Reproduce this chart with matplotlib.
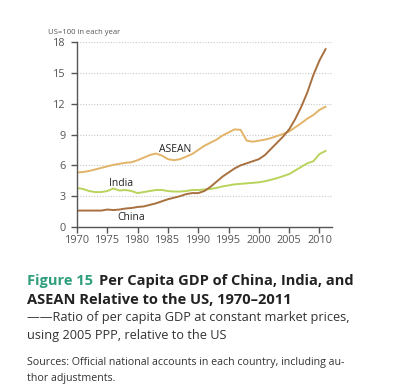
import matplotlib
matplotlib.use("Agg")
import matplotlib.pyplot as plt

plt.rcParams['font.family'] = ['Open Sans', 'DejaVu Sans']

years = list(range(1970, 2012))

china = [1.6, 1.6, 1.6, 1.6, 1.6, 1.7, 1.65, 1.7, 1.8, 1.85,
         1.95, 2.0, 2.15, 2.3, 2.5, 2.7, 2.85, 3.0, 3.2, 3.3,
         3.3, 3.5, 3.9, 4.4, 4.9, 5.3, 5.7, 6.0, 6.2, 6.4,
         6.6, 7.0, 7.6, 8.2, 8.8, 9.5, 10.5, 11.7, 13.1, 14.8,
         16.2, 17.3]
india = [3.8, 3.7, 3.5, 3.4, 3.4, 3.5, 3.75, 3.55, 3.6, 3.5,
         3.3, 3.4, 3.5, 3.6, 3.6, 3.5, 3.45, 3.45, 3.5, 3.6,
         3.6, 3.65, 3.7, 3.8, 3.95, 4.05, 4.15, 4.2, 4.25, 4.3,
         4.35, 4.45, 4.6, 4.75, 4.95, 5.15, 5.5, 5.85, 6.2, 6.4,
         7.1, 7.4]
asean = [5.3, 5.35, 5.45, 5.6, 5.75, 5.9, 6.05, 6.15, 6.25, 6.3,
         6.5, 6.75, 7.0, 7.15, 6.95, 6.6, 6.5, 6.6, 6.85, 7.1,
         7.5, 7.9, 8.2, 8.5, 8.9, 9.2, 9.5, 9.45, 8.4, 8.3,
         8.4, 8.5, 8.65, 8.85, 9.05, 9.3, 9.7, 10.1, 10.55, 10.9,
         11.4, 11.7]

xticks = [1970, 1975, 1980, 1985, 1990, 1995, 2000, 2005, 2010]
yticks = [0, 3, 6, 9, 12, 15, 18]

c_china = '#a8703f'
c_india = '#b9d45c'
c_asean = '#e2b468'
axis_col = '#555555'

fig = plt.figure(figsize=(4, 3.91), dpi=100)
ax = fig.add_axes([0.1925, 0.4194, 0.638, 0.4732])

ax.plot(years, asean, color=c_asean, lw=1.4)
ax.plot(years, india, color=c_india, lw=1.4)
ax.plot(years, china, color=c_china, lw=1.4)

ax.set_xlim(1970, 2012.1)
ax.set_ylim(0, 18)
ax.set_xticks(xticks)
ax.set_yticks(yticks)
for y in yticks[1:]:
    ax.axhline(y, color='#c8c8c8', lw=0.8, ls=(0, (1, 1.5)), zorder=0)

for s in ['top', 'right']:
    ax.spines[s].set_visible(False)
for s in ['left', 'bottom']:
    ax.spines[s].set_color(axis_col)
    ax.spines[s].set_linewidth(1.0)
ax.tick_params(colors=axis_col, labelsize=7.8, length=4, width=1.0, pad=2)
ax.tick_params(axis='y', pad=4)

ax.text(1986.2, 7.5, 'ASEAN', fontsize=7.5, color='#222222', ha='center', va='center')
ax.text(1977.3, 4.2, 'India', fontsize=7.5, color='#222222', ha='center', va='center')
ax.text(1979.0, 0.97, 'China', fontsize=7.5, color='#222222', ha='center', va='center')

fig.text(48 / 400, 1 - 32 / 391, 'US=100 in each year', fontsize=5.5, color=axis_col,
         ha='left', va='center')

# caption block
renderer = fig.canvas.get_renderer()
t = fig.text(27 / 400, 1 - 281 / 391, 'Figure 15', fontsize=10.5, fontweight='bold',
             color='#2e9e7c', ha='left', va='center')
bb = t.get_window_extent(renderer)
fig.text(bb.x1 / 400 + 6 / 400, 1 - 281 / 391, 'Per Capita GDP of China, India, and',
         fontsize=10.5, fontweight='bold', color='#222222', ha='left', va='center')
fig.text(27 / 400, 1 - 300 / 391, 'ASEAN Relative to the US, 1970\u20132011',
         fontsize=10.5, fontweight='bold', color='#222222', ha='left', va='center')
fig.text(27 / 400, 1 - 318 / 391, '\u2014\u2014Ratio of per capita GDP at constant market prices,',
         fontsize=9.2, color='#333333', ha='left', va='center')
fig.text(27 / 400, 1 - 336 / 391, 'using 2005 PPP, relative to the US',
         fontsize=9.2, color='#333333', ha='left', va='center')
fig.text(27 / 400, 1 - 363 / 391, 'Sources: Official national accounts in each country, including au-',
         fontsize=7.7, color='#333333', ha='left', va='center')
fig.text(27 / 400, 1 - 378 / 391, 'thor adjustments.',
         fontsize=7.7, color='#333333', ha='left', va='center')

fig.savefig('out.png', dpi=100)
